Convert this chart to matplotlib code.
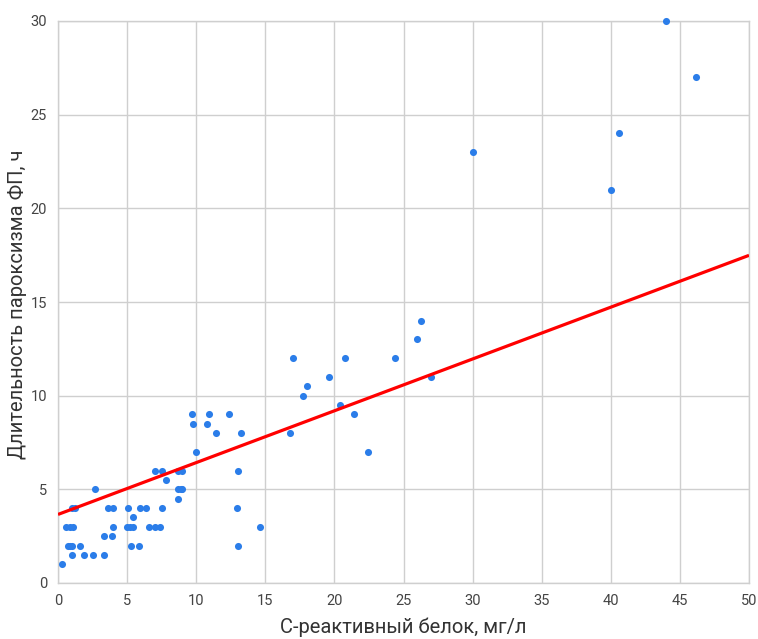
import numpy as np
import matplotlib.pyplot as plt

# С-реактивный белок (мг/л) и длительность пароксизма ФП (ч)
crp = [0.3, 1.0, 1.9, 2.5, 3.3,
       0.7, 0.85, 1.0, 1.6, 5.3, 5.85, 13.0,
       3.3, 3.9,
       0.6, 0.85, 1.05, 4.0, 5.0, 5.2, 5.4, 6.6, 7.05, 7.35, 14.6,
       5.4,
       1.0, 1.2, 3.6, 4.0, 5.05, 5.9, 6.4, 7.5, 12.95,
       8.7,
       2.7, 8.7, 8.9, 9.0,
       7.8,
       7.0, 7.5, 8.7, 9.0, 13.0,
       9.95,
       11.4, 13.25, 16.8,
       9.75, 10.8,
       9.7, 10.9, 12.35,
       22.4, 21.4, 20.4, 17.75, 18.0, 19.6, 27.0,
       17.0, 20.8, 24.4, 26.0, 26.3,
       40.0, 30.0, 40.6, 46.2, 44.0]
duration = [1, 1.5, 1.5, 1.5, 1.5,
            2, 2, 2, 2, 2, 2, 2,
            2.5, 2.5,
            3, 3, 3, 3, 3, 3, 3, 3, 3, 3, 3,
            3.5,
            4, 4, 4, 4, 4, 4, 4, 4, 4,
            4.5,
            5, 5, 5, 5,
            5.5,
            6, 6, 6, 6, 6,
            7,
            8, 8, 8,
            8.5, 8.5,
            9, 9, 9,
            7, 9, 9.5, 10, 10.5, 11, 11,
            12, 12, 12, 13, 14,
            21, 23, 24, 27, 30]

# линия тренда
trend_x = [0, 50]
trend_intercept = 3.66
trend_slope = 0.2766

x_ticks = [0, 5, 10, 15, 20, 25, 30, 35, 40, 45, 50]
y_ticks = [0, 5, 10, 15, 20, 25, 30]

plt.rcParams['font.family'] = ['Roboto', 'DejaVu Sans']

fig = plt.figure(figsize=(7.58, 6.39), dpi=100)
ax = fig.add_axes([58 / 758, 1 - 583 / 639, 691 / 758, 562 / 639])

ax.scatter(crp, duration, s=26, color='#2b7de9', zorder=3, linewidths=0, clip_on=False)
ty = [trend_intercept + trend_slope * v for v in trend_x]
ax.plot(trend_x, ty, color='#ff0000', linewidth=2.3, zorder=4, solid_capstyle='butt')

ax.set_xlim(0, 50)
ax.set_ylim(0, 30)
ax.set_xticks(x_ticks)
ax.set_yticks(y_ticks)
ax.grid(True, color='#cfcfcf', linewidth=1)
ax.set_axisbelow(True)
for s in ax.spines.values():
    s.set_color('#cfcfcf')
    s.set_linewidth(1)
ax.tick_params(length=0, labelsize=10.5, labelcolor='#444444', pad=8)

ax.set_xlabel('С-реактивный белок, мг/л', fontsize=14.5, color='#333333', va='center')
ax.set_ylabel('Длительность пароксизма ФП, ч', fontsize=14.5, color='#333333', va='center')
ax.xaxis.set_label_coords(0.5, -0.078)
ax.yaxis.set_label_coords(-0.058, 0.495)

fig.savefig('out.png', dpi=100)
